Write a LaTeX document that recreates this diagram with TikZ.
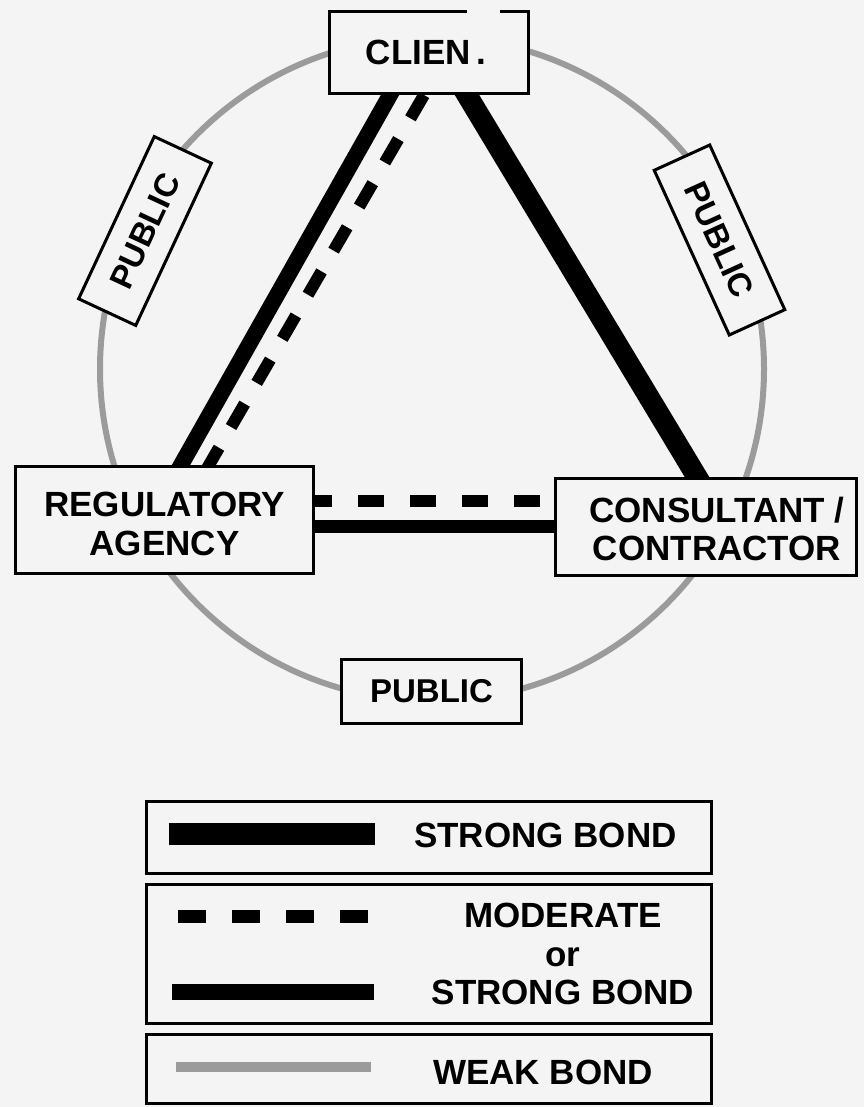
\documentclass[tikz,border=0pt]{standalone}
\usepackage{fontspec}
\setmainfont{Liberation Sans}
\usetikzlibrary{calc}
\definecolor{bg}{RGB}{244,244,244}
\definecolor{weak}{RGB}{155,155,155}
\pgfdeclarelayer{bottom}
\pgfdeclarelayer{edges}
\pgfsetlayers{bottom,edges,main}
\begin{document}
\begin{tikzpicture}[x=1pt,y=-1pt,
  box/.style={draw=black,line width=3pt,fill=bg,inner sep=0pt,align=center,
    font=\bfseries\fontsize{35}{38}\selectfont},
  pubbox/.style={box,font=\bfseries\fontsize{33}{38}\selectfont},
  lbl/.style={inner sep=0pt,align=center,font=\bfseries\fontsize{35}{38.5}\selectfont},
  strongbond/.style={line width=16pt},
  heavybond/.style={line width=21pt},
  modbond/.style={line width=12pt,dash pattern=on 27pt off 24pt},
  weakbond/.style={draw=weak,line width=6pt}]
\begin{pgfonlayer}{bottom}
\fill[bg] (0,0) rectangle (864,1107);
\end{pgfonlayer}
\useasboundingbox (0,0) rectangle (864,1107);

% nodes
\node[box,minimum width=199pt,minimum height=82pt] (client) at (429,52.5) {CLIEN\makebox[0.611em]{.}};
\node[box,minimum width=298pt,minimum height=107pt] (reg) at (164.5,520) {};
\node[lbl] (regT) at ([yshift=-4pt]reg.center) {REGULATORY\\AGENCY};
\node[box,minimum width=301pt,minimum height=97pt] (cons) at (706,527) {};
\node[lbl] (consT) at ([xshift=11pt,yshift=-2pt]cons.center) {CONSULTANT /\\CONTRACTOR};
\node[pubbox,minimum width=180pt,minimum height=64pt] (pubB) at (431.5,691.5) {PUBLIC};
\node[pubbox,minimum width=179pt,minimum height=63pt,rotate=65] (pubL) at (145,231) {PUBLIC};
\node[pubbox,minimum width=181pt,minimum height=61pt,rotate=-65.5] (pubR) at (719.5,240) {PUBLIC};
% scan gap in the client box top border
\fill[bg] (467,7.5) rectangle (500,13);

% connectors
\coordinate (crS1) at ([xshift=62pt]client.south west);
\coordinate (crS2) at ([xshift=167pt]reg.north west);
\coordinate (crD1) at ([xshift=96pt]client.south west);
\coordinate (crD2) at ([xshift=195pt]reg.north west);
\coordinate (cc1) at ([xshift=139pt]client.south west);
\coordinate (cc2) at ([xshift=143pt]cons.north west);
\begin{pgfonlayer}{edges}
\draw[weakbond] (432,369) circle (332);
\draw[strongbond] ($(crS1)!-14pt!(crS2)$) -- ($(crS2)!-14pt!(crS1)$);
\draw[modbond,dash phase=39pt] ($(crD1)!-12pt!(crD2)$) -- ($(crD2)!-8pt!(crD1)$);
\draw[heavybond] ($(cc1)!-16pt!(cc2)$) -- ($(cc2)!-16pt!(cc1)$);
\end{pgfonlayer}
\draw[line width=12pt,dash pattern=on 26pt off 26pt,dash phase=9pt]
  ([yshift=19pt]reg.east) -- ([yshift=19pt]reg.east -| cons.west);
\draw[line width=13pt] ([yshift=-6pt]reg.east) -- ([yshift=-6pt]reg.east -| cons.west);

% legend
\node[box,minimum width=565pt,minimum height=72pt] (leg1) at (429,837.5) {};
\node[box,minimum width=565pt,minimum height=139pt] (leg2) at (429,954) {};
\node[box,minimum width=565pt,minimum height=69pt] (leg3) at (429,1069) {};
\draw[line width=22pt] (169,834) -- (375,834);
\draw[line width=13pt,dash pattern=on 28pt off 26pt] (178,916.5) -- (368,916.5);
\draw[line width=16pt] (172,992) -- (374,992);
\draw[weakbond,line width=10pt] (176,1067) -- (371,1067);
\node[lbl] (t1) at (545.5,835) {STRONG BOND};
\node[lbl] (t2) at (563,954) {MODERATE\\or\\STRONG BOND};
\node[lbl] (t3) at (543,1072) {WEAK BOND};
\end{tikzpicture}
\end{document}
